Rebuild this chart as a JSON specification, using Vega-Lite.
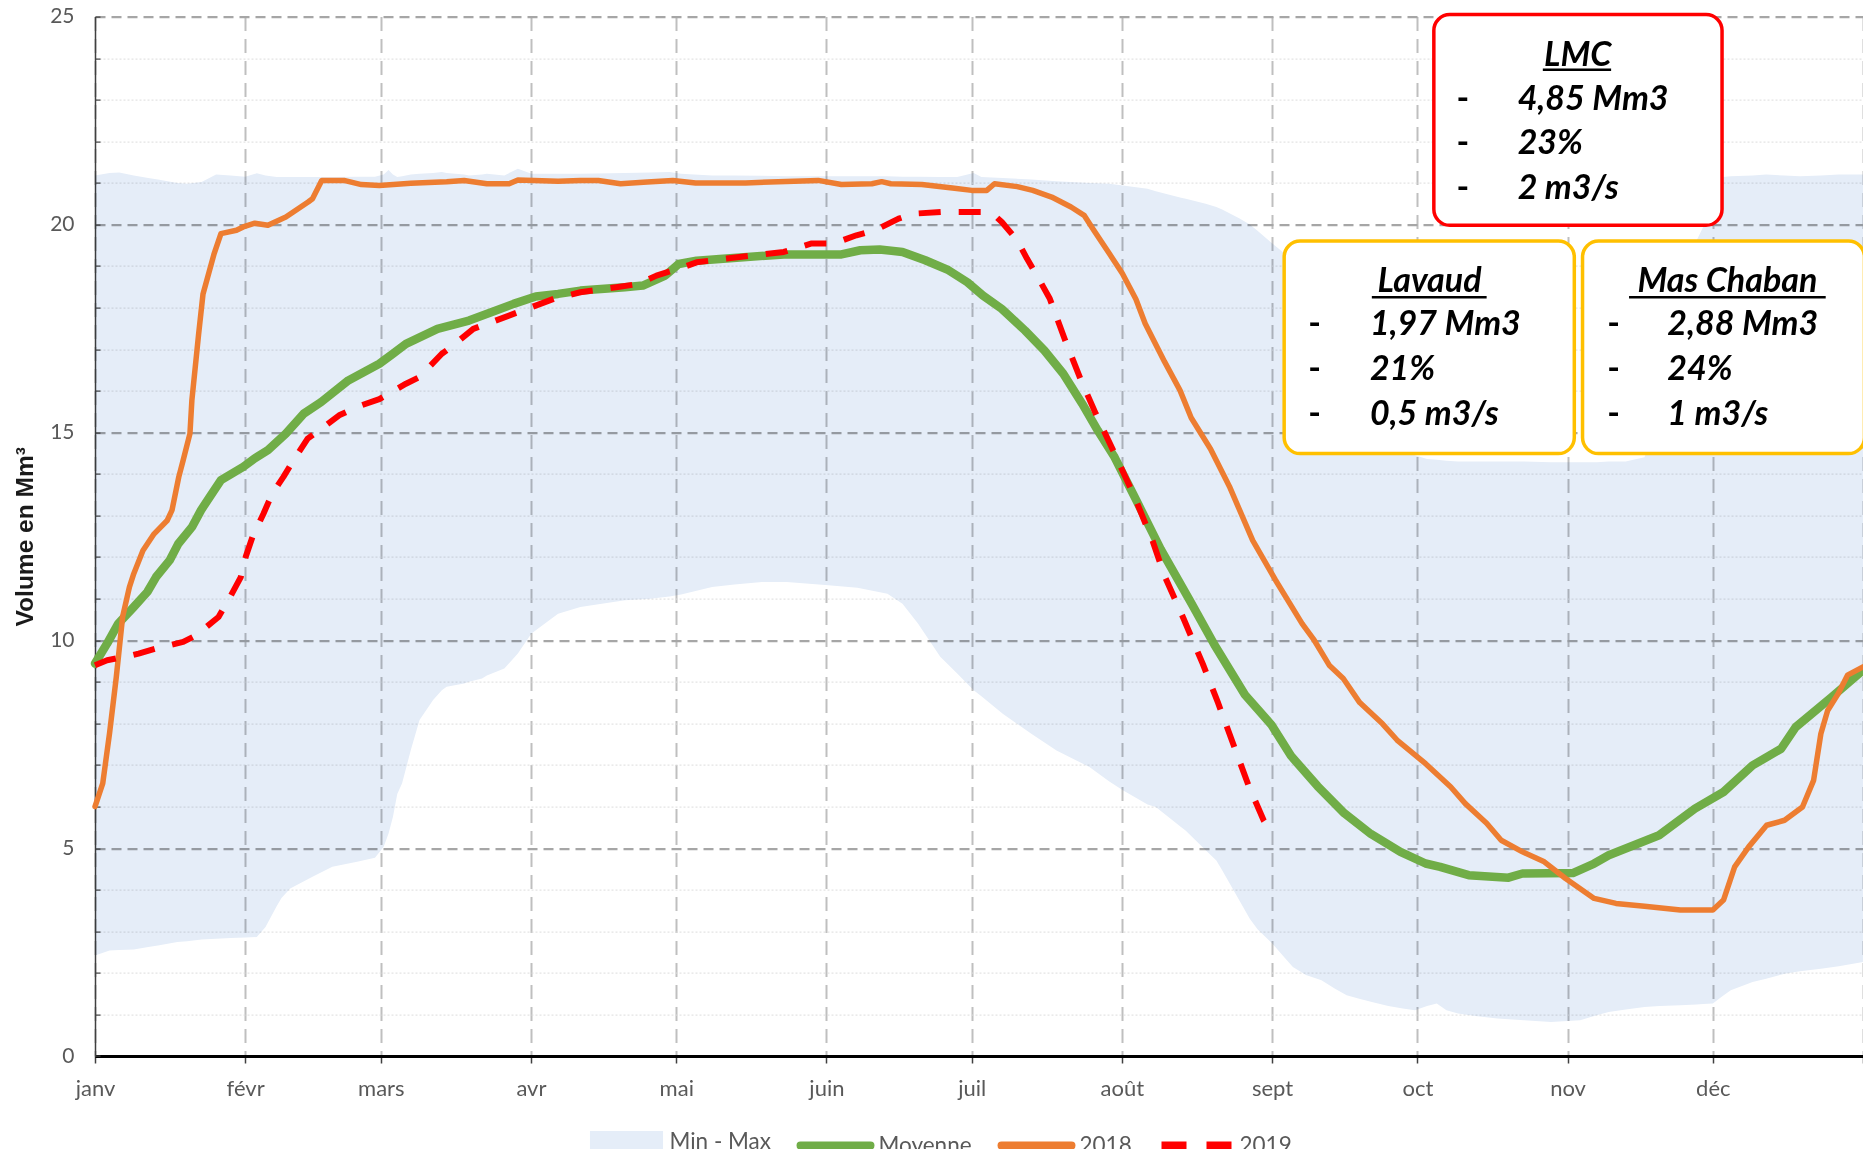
{
  "$schema": "https://vega.github.io/schema/vega-lite/v6.json",
  "width": 1768,
  "height": 1039.4,
  "autosize": {"type": "none"},
  "padding": {"left": 95, "top": 16.6, "right": 0, "bottom": 93},
  "background": "white",
  "config": {"font": "Lato", "view": {"stroke": null}},
  "datasets": {
    "band": [
      {"day":0,"lo":2.42,"hi":21.18},{"day":3,"lo":2.54,"hi":21.24},{"day":5,"lo":2.55,"hi":21.25},{"day":8,"lo":2.56,"hi":21.18},
      {"day":11,"lo":2.62,"hi":21.12},{"day":13,"lo":2.66,"hi":21.08},{"day":17,"lo":2.74,"hi":21.0},{"day":19,"lo":2.76,"hi":20.98},
      {"day":22,"lo":2.8,"hi":21.02},{"day":25,"lo":2.82,"hi":21.2},{"day":28,"lo":2.84,"hi":21.18},{"day":31,"lo":2.85,"hi":21.15},
      {"day":33.4,"lo":2.86,"hi":21.23},{"day":35.2,"lo":3.1,"hi":21.18},{"day":37.5,"lo":3.6,"hi":21.14},{"day":38.5,"lo":3.8,"hi":21.14},
      {"day":40.3,"lo":4.03,"hi":21.14},{"day":44.9,"lo":4.31,"hi":21.14},{"day":49,"lo":4.55,"hi":21.14},{"day":54.1,"lo":4.67,"hi":21.15},
      {"day":57.8,"lo":4.77,"hi":21.15},{"day":59.6,"lo":5.03,"hi":21.2},{"day":60.6,"lo":5.35,"hi":21.31},{"day":61.5,"lo":5.75,"hi":21.2},
      {"day":62.4,"lo":6.3,"hi":21.14},{"day":63.4,"lo":6.56,"hi":21.16},{"day":65.2,"lo":7.36,"hi":21.2},{"day":67,"lo":8.08,"hi":21.22},
      {"day":69.8,"lo":8.56,"hi":21.24},{"day":71.6,"lo":8.8,"hi":21.26},{"day":72.6,"lo":8.88,"hi":21.24},{"day":76.2,"lo":8.96,"hi":21.2},
      {"day":77.2,"lo":9.0,"hi":21.18},{"day":79.9,"lo":9.08,"hi":21.2},{"day":80.9,"lo":9.15,"hi":21.22},{"day":84.5,"lo":9.32,"hi":21.18},
      {"day":87.3,"lo":9.68,"hi":21.34},{"day":90.1,"lo":10.16,"hi":21.22},{"day":95.6,"lo":10.64,"hi":21.22},{"day":100.2,"lo":10.8,"hi":21.22},
      {"day":109.4,"lo":10.96,"hi":21.24},{"day":114.6,"lo":11.0,"hi":21.25},{"day":118.6,"lo":11.05,"hi":21.26},{"day":121,"lo":11.1,"hi":21.22},
      {"day":127.4,"lo":11.28,"hi":21.18},{"day":132,"lo":11.34,"hi":21.18},{"day":137.7,"lo":11.4,"hi":21.17},{"day":142.8,"lo":11.4,"hi":21.16},
      {"day":151.4,"lo":11.32,"hi":21.16},{"day":157.4,"lo":11.26,"hi":21.16},{"day":163.6,"lo":11.12,"hi":21.16},{"day":166.7,"lo":10.88,"hi":21.15},
      {"day":169.9,"lo":10.4,"hi":21.15},{"day":174.5,"lo":9.6,"hi":21.14},{"day":178,"lo":9.2,"hi":21.14},{"day":181.4,"lo":8.8,"hi":21.24},
      {"day":183,"lo":8.65,"hi":21.14},{"day":187.4,"lo":8.23,"hi":21.12},{"day":193.3,"lo":7.75,"hi":21.08},{"day":198.5,"lo":7.35,"hi":21.04},
      {"day":205.3,"lo":6.95,"hi":21.0},{"day":209.4,"lo":6.6,"hi":20.98},{"day":212.2,"lo":6.39,"hi":20.94},{"day":217.3,"lo":6.05,"hi":20.86},
      {"day":219,"lo":5.99,"hi":20.8},{"day":224.2,"lo":5.51,"hi":20.64},{"day":225.2,"lo":5.42,"hi":20.62},{"day":229.3,"lo":4.95,"hi":20.5},
      {"day":231.5,"lo":4.7,"hi":20.42},{"day":232.7,"lo":4.47,"hi":20.36},{"day":236.2,"lo":3.75,"hi":20.15},{"day":238.4,"lo":3.3,"hi":20.0},
      {"day":240,"lo":3.05,"hi":19.85},{"day":243,"lo":2.71,"hi":19.55},{"day":245.7,"lo":2.35,"hi":19.29},{"day":247.3,"lo":2.14,"hi":19.0},
      {"day":250,"lo":1.95,"hi":18.5},{"day":253.2,"lo":1.82,"hi":17.8},{"day":256,"lo":1.62,"hi":17.1},{"day":258.4,"lo":1.46,"hi":16.6},
      {"day":261,"lo":1.38,"hi":15.9},{"day":263.6,"lo":1.3,"hi":15.3},{"day":267,"lo":1.2,"hi":14.85},{"day":270,"lo":1.14,"hi":14.6},
      {"day":272.5,"lo":1.1,"hi":14.45},{"day":275,"lo":1.2,"hi":14.36},{"day":277,"lo":1.26,"hi":14.34},{"day":279,"lo":1.1,"hi":14.32},
      {"day":281.4,"lo":1.02,"hi":14.3},{"day":285,"lo":0.96,"hi":14.3},{"day":289.5,"lo":0.9,"hi":14.3},{"day":295,"lo":0.86,"hi":14.3},
      {"day":300.6,"lo":0.82,"hi":14.28},{"day":304,"lo":0.84,"hi":14.28},{"day":306.6,"lo":0.86,"hi":14.28},{"day":310,"lo":0.98,"hi":14.28},
      {"day":312.5,"lo":1.06,"hi":14.3},{"day":316,"lo":1.12,"hi":14.3},{"day":319.9,"lo":1.18,"hi":14.4},{"day":323,"lo":1.2,"hi":15.5},
      {"day":327.3,"lo":1.22,"hi":17.6},{"day":330.6,"lo":1.24,"hi":19.6},{"day":332,"lo":1.25,"hi":19.94},{"day":334,"lo":1.26,"hi":20.6},
      {"day":336.1,"lo":1.45,"hi":21.14},{"day":337.7,"lo":1.58,"hi":21.16},{"day":342.2,"lo":1.78,"hi":21.18},{"day":345,"lo":1.86,"hi":21.2},
      {"day":348.8,"lo":1.98,"hi":21.18},{"day":352,"lo":2.04,"hi":21.16},{"day":356.3,"lo":2.1,"hi":21.18},{"day":360,"lo":2.16,"hi":21.2},
      {"day":365,"lo":2.26,"hi":21.2}
    ],
    "lines": [
      {"series":"Moyenne","day":0,"volume":9.44},{"series":"Moyenne","day":2.5,"volume":9.92},{"series":"Moyenne","day":4.8,"volume":10.4},
      {"series":"Moyenne","day":8,"volume":10.8},{"series":"Moyenne","day":10.8,"volume":11.16},{"series":"Moyenne","day":12.6,"volume":11.52},
      {"series":"Moyenne","day":15.4,"volume":11.92},{"series":"Moyenne","day":17.2,"volume":12.32},{"series":"Moyenne","day":20,"volume":12.72},
      {"series":"Moyenne","day":21.9,"volume":13.13},{"series":"Moyenne","day":23.7,"volume":13.45},{"series":"Moyenne","day":26,"volume":13.85},
      {"series":"Moyenne","day":30.6,"volume":14.17},{"series":"Moyenne","day":32.9,"volume":14.37},{"series":"Moyenne","day":35.7,"volume":14.57},
      {"series":"Moyenne","day":39.4,"volume":14.97},{"series":"Moyenne","day":43.1,"volume":15.45},{"series":"Moyenne","day":46.7,"volume":15.73},
      {"series":"Moyenne","day":52.3,"volume":16.25},{"series":"Moyenne","day":58.7,"volume":16.65},{"series":"Moyenne","day":61.5,"volume":16.89},
      {"series":"Moyenne","day":64.2,"volume":17.13},{"series":"Moyenne","day":70.7,"volume":17.49},{"series":"Moyenne","day":77.2,"volume":17.69},
      {"series":"Moyenne","day":81.8,"volume":17.89},{"series":"Moyenne","day":86.4,"volume":18.09},{"series":"Moyenne","day":91,"volume":18.27},
      {"series":"Moyenne","day":95.6,"volume":18.33},{"series":"Moyenne","day":100.2,"volume":18.41},{"series":"Moyenne","day":109.4,"volume":18.49},
      {"series":"Moyenne","day":113.1,"volume":18.53},{"series":"Moyenne","day":117.7,"volume":18.77},{"series":"Moyenne","day":120.5,"volume":19.05},
      {"series":"Moyenne","day":124.2,"volume":19.13},{"series":"Moyenne","day":130.4,"volume":19.18},{"series":"Moyenne","day":142.2,"volume":19.28},
      {"series":"Moyenne","day":154.1,"volume":19.28},{"series":"Moyenne","day":158,"volume":19.38},{"series":"Moyenne","day":162,"volume":19.4},
      {"series":"Moyenne","day":166.7,"volume":19.34},{"series":"Moyenne","day":171.4,"volume":19.14},{"series":"Moyenne","day":176.2,"volume":18.9},
      {"series":"Moyenne","day":180.1,"volume":18.61},{"series":"Moyenne","day":183.3,"volume":18.29},{"series":"Moyenne","day":187.2,"volume":17.97},
      {"series":"Moyenne","day":192,"volume":17.45},{"series":"Moyenne","day":196,"volume":16.97},{"series":"Moyenne","day":199.9,"volume":16.41},
      {"series":"Moyenne","day":203.8,"volume":15.69},{"series":"Moyenne","day":207,"volume":15.05},{"series":"Moyenne","day":210.5,"volume":14.4},
      {"series":"Moyenne","day":215.3,"volume":13.29},{"series":"Moyenne","day":220,"volume":12.19},{"series":"Moyenne","day":226.3,"volume":10.9},
      {"series":"Moyenne","day":231.1,"volume":9.89},{"series":"Moyenne","day":237.4,"volume":8.69},{"series":"Moyenne","day":242.9,"volume":7.96},
      {"series":"Moyenne","day":246.9,"volume":7.22},{"series":"Moyenne","day":252.4,"volume":6.49},{"series":"Moyenne","day":257.9,"volume":5.84},
      {"series":"Moyenne","day":263.4,"volume":5.34},{"series":"Moyenne","day":269.5,"volume":4.91},{"series":"Moyenne","day":274.7,"volume":4.63},
      {"series":"Moyenne","day":277.7,"volume":4.55},{"series":"Moyenne","day":283.6,"volume":4.35},{"series":"Moyenne","day":291.8,"volume":4.29},
      {"series":"Moyenne","day":294.7,"volume":4.39},{"series":"Moyenne","day":305.1,"volume":4.4},{"series":"Moyenne","day":309.5,"volume":4.63},
      {"series":"Moyenne","day":312.5,"volume":4.83},{"series":"Moyenne","day":322.9,"volume":5.31},{"series":"Moyenne","day":330.3,"volume":5.95},
      {"series":"Moyenne","day":336.2,"volume":6.35},{"series":"Moyenne","day":342.2,"volume":6.99},{"series":"Moyenne","day":348.1,"volume":7.39},
      {"series":"Moyenne","day":351.1,"volume":7.91},{"series":"Moyenne","day":358.5,"volume":8.63},{"series":"Moyenne","day":365,"volume":9.28},

      {"series":"2018","day":0,"volume":6.0},{"series":"2018","day":1.6,"volume":6.56},{"series":"2018","day":3,"volume":7.76},
      {"series":"2018","day":4.4,"volume":9.12},{"series":"2018","day":5.7,"volume":10.56},{"series":"2018","day":7.1,"volume":11.28},
      {"series":"2018","day":8,"volume":11.6},{"series":"2018","day":9.9,"volume":12.16},{"series":"2018","day":12.2,"volume":12.56},
      {"series":"2018","day":14.9,"volume":12.88},{"series":"2018","day":15.9,"volume":13.13},{"series":"2018","day":17.3,"volume":13.93},
      {"series":"2018","day":18.2,"volume":14.33},{"series":"2018","day":19.6,"volume":14.97},{"series":"2018","day":20,"volume":15.77},
      {"series":"2018","day":21.4,"volume":17.37},{"series":"2018","day":22.3,"volume":18.33},{"series":"2018","day":24.6,"volume":19.3},
      {"series":"2018","day":26,"volume":19.78},{"series":"2018","day":29.2,"volume":19.86},{"series":"2018","day":30.6,"volume":19.94},
      {"series":"2018","day":33,"volume":20.03},{"series":"2018","day":35.7,"volume":19.98},{"series":"2018","day":39.4,"volume":20.18},
      {"series":"2018","day":44,"volume":20.54},{"series":"2018","day":44.9,"volume":20.62},{"series":"2018","day":46.8,"volume":21.06},
      {"series":"2018","day":51.4,"volume":21.06},{"series":"2018","day":55,"volume":20.96},{"series":"2018","day":58.7,"volume":20.94},
      {"series":"2018","day":65.2,"volume":20.99},{"series":"2018","day":72.6,"volume":21.03},{"series":"2018","day":76.2,"volume":21.06},
      {"series":"2018","day":80.9,"volume":20.98},{"series":"2018","day":85.5,"volume":20.98},{"series":"2018","day":87.3,"volume":21.07},
      {"series":"2018","day":95.6,"volume":21.04},{"series":"2018","day":100.2,"volume":21.06},{"series":"2018","day":103.9,"volume":21.06},
      {"series":"2018","day":108.5,"volume":20.98},{"series":"2018","day":114,"volume":21.02},{"series":"2018","day":119.3,"volume":21.06},
      {"series":"2018","day":124,"volume":21.0},{"series":"2018","day":134.3,"volume":21.0},{"series":"2018","day":149.3,"volume":21.06},
      {"series":"2018","day":154.1,"volume":20.96},{"series":"2018","day":160.4,"volume":20.98},{"series":"2018","day":162.4,"volume":21.03},
      {"series":"2018","day":164.3,"volume":20.98},{"series":"2018","day":170.7,"volume":20.96},{"series":"2018","day":177,"volume":20.88},
      {"series":"2018","day":181,"volume":20.82},{"series":"2018","day":184.1,"volume":20.82},{"series":"2018","day":185.7,"volume":20.98},
      {"series":"2018","day":190.4,"volume":20.91},{"series":"2018","day":193.6,"volume":20.82},{"series":"2018","day":197.5,"volume":20.66},
      {"series":"2018","day":201.5,"volume":20.42},{"series":"2018","day":204.2,"volume":20.22},{"series":"2018","day":206.2,"volume":19.86},
      {"series":"2018","day":209.4,"volume":19.3},{"series":"2018","day":212.1,"volume":18.82},{"series":"2018","day":214.9,"volume":18.2},
      {"series":"2018","day":216.8,"volume":17.62},{"series":"2018","day":220.8,"volume":16.7},{"series":"2018","day":224,"volume":16.01},
      {"series":"2018","day":226.3,"volume":15.35},{"series":"2018","day":230.3,"volume":14.6},{"series":"2018","day":234.2,"volume":13.7},
      {"series":"2018","day":239,"volume":12.4},{"series":"2018","day":243.7,"volume":11.45},{"series":"2018","day":249.2,"volume":10.4},
      {"series":"2018","day":251.7,"volume":10.0},{"series":"2018","day":254.8,"volume":9.4},{"series":"2018","day":257.7,"volume":9.08},
      {"series":"2018","day":261.1,"volume":8.5},{"series":"2018","day":265.8,"volume":7.99},{"series":"2018","day":268.8,"volume":7.6},
      {"series":"2018","day":274.7,"volume":7.03},{"series":"2018","day":279.9,"volume":6.47},{"series":"2018","day":282.9,"volume":6.07},
      {"series":"2018","day":287.3,"volume":5.6},{"series":"2018","day":290.3,"volume":5.19},{"series":"2018","day":294.7,"volume":4.91},
      {"series":"2018","day":299.2,"volume":4.67},{"series":"2018","day":303.6,"volume":4.27},{"series":"2018","day":309.5,"volume":3.79},
      {"series":"2018","day":314,"volume":3.67},{"series":"2018","day":319.9,"volume":3.6},{"series":"2018","day":327.3,"volume":3.51},
      {"series":"2018","day":334,"volume":3.51},{"series":"2018","day":336.2,"volume":3.75},{"series":"2018","day":338.5,"volume":4.55},
      {"series":"2018","day":341.4,"volume":5.03},{"series":"2018","day":345.1,"volume":5.55},{"series":"2018","day":348.8,"volume":5.67},
      {"series":"2018","day":352.5,"volume":5.99},{"series":"2018","day":354.8,"volume":6.63},{"series":"2018","day":356.3,"volume":7.75},
      {"series":"2018","day":357.7,"volume":8.31},{"series":"2018","day":359.9,"volume":8.72},{"series":"2018","day":361.8,"volume":9.16},
      {"series":"2018","day":365,"volume":9.36},

      {"series":"2019","day":0,"volume":9.4},{"series":"2019","day":2.5,"volume":9.52},{"series":"2019","day":6.2,"volume":9.6},
      {"series":"2019","day":9,"volume":9.68},{"series":"2019","day":12.6,"volume":9.8},{"series":"2019","day":18.2,"volume":9.96},
      {"series":"2019","day":20.9,"volume":10.12},{"series":"2019","day":25.5,"volume":10.56},{"series":"2019","day":27.9,"volume":11.04},
      {"series":"2019","day":30.1,"volume":11.52},{"series":"2019","day":31.1,"volume":12.0},{"series":"2019","day":32.5,"volume":12.48},
      {"series":"2019","day":34.8,"volume":13.05},{"series":"2019","day":36.6,"volume":13.53},{"series":"2019","day":38.9,"volume":13.93},
      {"series":"2019","day":41.2,"volume":14.37},{"series":"2019","day":43.9,"volume":14.85},{"series":"2019","day":47.7,"volume":15.17},
      {"series":"2019","day":50.4,"volume":15.41},{"series":"2019","day":55,"volume":15.65},{"series":"2019","day":58.7,"volume":15.8},
      {"series":"2019","day":64.2,"volume":16.17},{"series":"2019","day":67,"volume":16.33},{"series":"2019","day":71.6,"volume":16.89},
      {"series":"2019","day":73.5,"volume":17.05},{"series":"2019","day":78.1,"volume":17.49},{"series":"2019","day":80.9,"volume":17.61},
      {"series":"2019","day":86.4,"volume":17.85},{"series":"2019","day":90.1,"volume":18.01},{"series":"2019","day":94.7,"volume":18.21},
      {"series":"2019","day":100.2,"volume":18.37},{"series":"2019","day":107.6,"volume":18.49},{"series":"2019","day":112.2,"volume":18.57},
      {"series":"2019","day":115.9,"volume":18.77},{"series":"2019","day":121.4,"volume":18.97},{"series":"2019","day":124.2,"volume":19.09},
      {"series":"2019","day":130.4,"volume":19.18},{"series":"2019","day":142.2,"volume":19.34},{"series":"2019","day":147.8,"volume":19.54},
      {"series":"2019","day":152.5,"volume":19.54},{"series":"2019","day":157.2,"volume":19.74},{"series":"2019","day":161.2,"volume":19.87},
      {"series":"2019","day":165.9,"volume":20.14},{"series":"2019","day":169.1,"volume":20.26},{"series":"2019","day":174.6,"volume":20.3},
      {"series":"2019","day":183.3,"volume":20.3},{"series":"2019","day":185.7,"volume":20.22},{"series":"2019","day":187.2,"volume":20.06},
      {"series":"2019","day":190.4,"volume":19.62},{"series":"2019","day":192.4,"volume":19.18},{"series":"2019","day":194.8,"volume":18.7},
      {"series":"2019","day":197.1,"volume":18.22},{"series":"2019","day":200.3,"volume":17.21},{"series":"2019","day":203.4,"volume":16.3},
      {"series":"2019","day":206.6,"volume":15.45},{"series":"2019","day":210.5,"volume":14.49},{"series":"2019","day":214.5,"volume":13.48},
      {"series":"2019","day":218.4,"volume":12.37},{"series":"2019","day":220.8,"volume":11.55},{"series":"2019","day":224.7,"volume":10.53},
      {"series":"2019","day":228.7,"volume":9.43},{"series":"2019","day":231.8,"volume":8.51},{"series":"2019","day":235,"volume":7.5},
      {"series":"2019","day":238.2,"volume":6.49},{"series":"2019","day":241.3,"volume":5.66},{"series":"2019","day":243.1,"volume":5.34}
    ]
  },
  "layer": [
    {
      "data": {"name": "band"},
      "mark": {"type": "area", "blend": "multiply"},
      "encoding": {
        "x": {
          "field": "day", "type": "quantitative",
          "scale": {"domain": [0, 365], "nice": false, "zero": false},
          "axis": {
            "title": null,
            "values": [0, 31, 59, 90, 120, 151, 181, 212, 243, 273, 304, 334, 365],
            "labelExpr": "['janv','févr','mars','avr','mai','juin','juil','août','sept','oct','nov','déc',''][indexof([0,31,59,90,120,151,181,212,243,273,304,334,365], datum.value)]",
            "labelFont": "Lato", "labelFontSize": 22, "labelColor": "#595959", "labelPadding": 15,
            "labelFlush": false, "labelOverlap": false, "labelBound": false,
            "tickSize": 7, "tickColor": "#404040", "tickWidth": 1.5,
            "domainColor": "#000000", "domainWidth": 3,
            "grid": true, "gridColor": "#BFBFBF", "gridDash": [14, 8], "gridWidth": 2
          }
        },
        "y": {
          "field": "lo", "type": "quantitative",
          "scale": {"domain": [0, 25], "nice": false, "zero": true},
          "axis": {
            "title": "Volume en Mm³",
            "titleFont": "Liberation Sans", "titleFontSize": 24.5, "titleFontWeight": "bold", "titleColor": "#1a1a1a", "titlePadding": 12,
            "values": [0,1,2,3,4,5,6,7,8,9,10,11,12,13,14,15,16,17,18,19,20,21,22,23,24,25],
            "labelExpr": "datum.value % 5 === 0 ? datum.label : ''",
            "labelFont": "Lato", "labelFontSize": 21, "labelColor": "#595959", "labelPadding": 26, "labelOverlap": false,
            "tickSize": -5, "tickColor": "#404040", "tickWidth": 1.2,
            "domainColor": "#404040", "domainWidth": 1.5,
            "grid": true,
            "gridColor": {"condition": {"test": "datum.value % 5 === 0", "value": "#A6A6A6"}, "value": "#DCDCDC"},
            "gridDash": {"condition": {"test": "datum.value % 5 === 0", "value": [10, 6]}, "value": [2, 2]},
            "gridWidth": {"condition": {"test": "datum.value % 5 === 0", "value": 2.2}, "value": 1}
          }
        },
        "y2": {"field": "hi"},
        "color": {
          "datum": "Min - Max",
          "scale": {"domain": ["Min - Max", "Moyenne", "2018", "2019"], "range": ["#E5EDF8", "#70AD47", "#ED7D31", "#FF0000"]},
          "legend": {
            "title": null, "orient": "none", "legendX": 492.5, "legendY": 1086.4, "direction": "horizontal", "columns": 4,
            "symbolType": "stroke", "symbolSize": 4900, "symbolStrokeWidth": 8,
            "labelFont": "Lato", "labelFontSize": 22.5, "labelColor": "#595959", "labelOffset": 4, "columnPadding": 13, "padding": 0,
            "encode": {
              "symbols": {
                "update": {
                  "shape": {"signal": "datum.value === 'Min - Max' ? 'M-0.93,-0.2H0.93V0.2H-0.93Z' : 'stroke'"},
                  "fill": {"signal": "datum.value === 'Min - Max' ? '#E5EDF8' : 'transparent'"},
                  "stroke": {"signal": "datum.value === 'Min - Max' ? 'transparent' : datum.value === 'Moyenne' ? '#70AD47' : datum.value === '2018' ? '#ED7D31' : '#FF0000'"},
                  "strokeWidth": {"value": 8},
                  "strokeDash": {"signal": "datum.value === '2019' ? [25, 20] : [1, 0]"},
                  "strokeCap": {"signal": "datum.value === '2019' ? 'butt' : 'round'"},
                  "opacity": {"value": 1}
                }
              }
            }
          }
        }
      }
    },
    {
      "data": {"name": "lines"},
      "transform": [{"filter": "datum.series === 'Moyenne'"}],
      "mark": {"type": "line", "strokeWidth": 8.5, "strokeCap": "round", "strokeJoin": "round"},
      "encoding": {
        "x": {"field": "day", "type": "quantitative"},
        "y": {"field": "volume", "type": "quantitative"},
        "color": {"datum": "Moyenne", "legend": null}
      }
    },
    {
      "data": {"name": "lines"},
      "transform": [{"filter": "datum.series === '2018'"}],
      "mark": {"type": "line", "strokeWidth": 5.5, "strokeCap": "round", "strokeJoin": "round"},
      "encoding": {
        "x": {"field": "day", "type": "quantitative"},
        "y": {"field": "volume", "type": "quantitative"},
        "color": {"datum": "2018", "legend": null}
      }
    },
    {
      "data": {"name": "lines"},
      "transform": [{"filter": "datum.series === '2019'"}],
      "mark": {"type": "line", "strokeWidth": 6, "strokeDash": [22, 18], "strokeCap": "butt", "strokeJoin": "round"},
      "encoding": {
        "x": {"field": "day", "type": "quantitative"},
        "y": {"field": "volume", "type": "quantitative"},
        "color": {"datum": "2019", "legend": null}
      }
    },
    {
      "data": {"values": [{}]},
      "mark": {"type": "rect", "fill": "white", "stroke": "#FF0000", "strokeWidth": 3.5, "cornerRadius": 16},
      "encoding": {
        "x": {"datum": 276.4, "type": "quantitative"}, "x2": {"datum": 335.9},
        "y": {"datum": 19.98, "type": "quantitative"}, "y2": {"datum": 25.05}
      }
    },
    {
      "data": {"values": [{}]},
      "mark": {"type": "rect", "fill": "white", "stroke": "#FFC000", "strokeWidth": 3.5, "cornerRadius": 16},
      "encoding": {
        "x": {"datum": 245.5, "type": "quantitative"}, "x2": {"datum": 305.4},
        "y": {"datum": 14.49, "type": "quantitative"}, "y2": {"datum": 19.6}
      }
    },
    {
      "data": {"values": [{}]},
      "mark": {"type": "rect", "fill": "white", "stroke": "#FFC000", "strokeWidth": 3.5, "cornerRadius": 16},
      "encoding": {
        "x": {"datum": 307.1, "type": "quantitative"}, "x2": {"datum": 365.3},
        "y": {"datum": 14.49, "type": "quantitative"}, "y2": {"datum": 19.6}
      }
    },
    {
      "data": {"values": [{}]},
      "mark": {"type": "text", "text": "LMC", "font": "Lato", "fontSize": 34, "fontWeight": "bold", "fontStyle": "italic", "align": "center", "baseline": "alphabetic", "color": "#000000"},
      "encoding": {"x": {"datum": 306.1, "type": "quantitative"}, "y": {"datum": 23.82, "type": "quantitative"}}
    },
    {
      "data": {"values": [{}]},
      "mark": {"type": "rule", "strokeWidth": 2.5, "color": "#000000"},
      "encoding": {"x": {"datum": 298.9, "type": "quantitative"}, "x2": {"datum": 313.0}, "y": {"datum": 23.72, "type": "quantitative"}}
    },
    {
      "data": {"values": [{}]},
      "mark": {"type": "text", "text": ["-", "-", "-"], "lineHeight": 44.6, "font": "Lato", "fontSize": 34, "fontWeight": "bold", "align": "center", "baseline": "alphabetic", "color": "#000000"},
      "encoding": {"x": {"datum": 282.4, "type": "quantitative"}, "y": {"datum": 22.76, "type": "quantitative"}}
    },
    {
      "data": {"values": [{}]},
      "mark": {"type": "text", "text": ["4,85 Mm3", "23%", "2 m3/s"], "lineHeight": 44.6, "font": "Lato", "fontSize": 34, "fontWeight": "bold", "fontStyle": "italic", "align": "left", "baseline": "alphabetic", "color": "#000000"},
      "encoding": {"x": {"datum": 293.7, "type": "quantitative"}, "y": {"datum": 22.76, "type": "quantitative"}}
    },
    {
      "data": {"values": [{}]},
      "mark": {"type": "text", "text": "Lavaud", "font": "Lato", "fontSize": 34, "fontWeight": "bold", "fontStyle": "italic", "align": "center", "baseline": "alphabetic", "color": "#000000"},
      "encoding": {"x": {"datum": 275.5, "type": "quantitative"}, "y": {"datum": 18.37, "type": "quantitative"}}
    },
    {
      "data": {"values": [{}]},
      "mark": {"type": "rule", "strokeWidth": 2.5, "color": "#000000"},
      "encoding": {"x": {"datum": 263.6, "type": "quantitative"}, "x2": {"datum": 287.3}, "y": {"datum": 18.25, "type": "quantitative"}}
    },
    {
      "data": {"values": [{}]},
      "mark": {"type": "text", "text": ["-", "-", "-"], "lineHeight": 44.6, "font": "Lato", "fontSize": 34, "fontWeight": "bold", "align": "center", "baseline": "alphabetic", "color": "#000000"},
      "encoding": {"x": {"datum": 251.8, "type": "quantitative"}, "y": {"datum": 17.33, "type": "quantitative"}}
    },
    {
      "data": {"values": [{}]},
      "mark": {"type": "text", "text": ["1,97 Mm3", "21%", "0,5 m3/s"], "lineHeight": 44.6, "font": "Lato", "fontSize": 34, "fontWeight": "bold", "fontStyle": "italic", "align": "left", "baseline": "alphabetic", "color": "#000000"},
      "encoding": {"x": {"datum": 263.2, "type": "quantitative"}, "y": {"datum": 17.33, "type": "quantitative"}}
    },
    {
      "data": {"values": [{}]},
      "mark": {"type": "text", "text": "Mas Chaban", "font": "Lato", "fontSize": 34, "fontWeight": "bold", "fontStyle": "italic", "align": "center", "baseline": "alphabetic", "color": "#000000"},
      "encoding": {"x": {"datum": 337.0, "type": "quantitative"}, "y": {"datum": 18.37, "type": "quantitative"}}
    },
    {
      "data": {"values": [{}]},
      "mark": {"type": "rule", "strokeWidth": 2.5, "color": "#000000"},
      "encoding": {"x": {"datum": 316.7, "type": "quantitative"}, "x2": {"datum": 357.3}, "y": {"datum": 18.25, "type": "quantitative"}}
    },
    {
      "data": {"values": [{}]},
      "mark": {"type": "text", "text": ["-", "-", "-"], "lineHeight": 44.6, "font": "Lato", "fontSize": 34, "fontWeight": "bold", "align": "center", "baseline": "alphabetic", "color": "#000000"},
      "encoding": {"x": {"datum": 313.5, "type": "quantitative"}, "y": {"datum": 17.33, "type": "quantitative"}}
    },
    {
      "data": {"values": [{}]},
      "mark": {"type": "text", "text": ["2,88 Mm3", "24%", "1 m3/s"], "lineHeight": 44.6, "font": "Lato", "fontSize": 34, "fontWeight": "bold", "fontStyle": "italic", "align": "left", "baseline": "alphabetic", "color": "#000000"},
      "encoding": {"x": {"datum": 324.6, "type": "quantitative"}, "y": {"datum": 17.33, "type": "quantitative"}}
    }
  ]
}
